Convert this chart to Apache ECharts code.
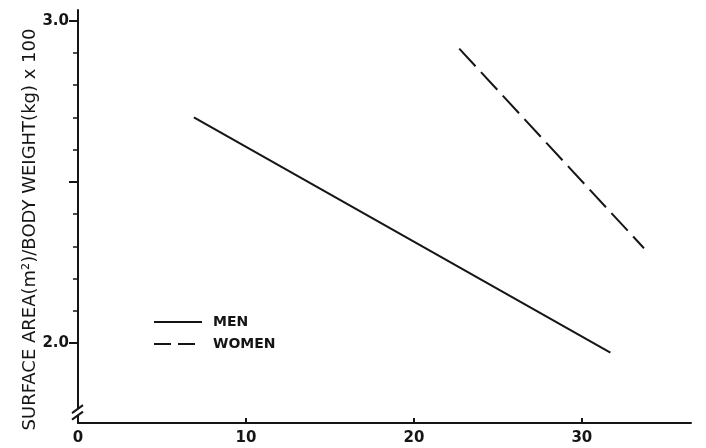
<!DOCTYPE html>
<html>
<head>
<meta charset="utf-8">
<script src="https://cdn.jsdelivr.net/npm/echarts@6/dist/echarts.min.js"></script>
<style>html,body{margin:0;padding:0;background:#fff;}#c{width:706px;height:448px;}</style>
</head>
<body>
<div id="c"></div>
<script>
const seriesNames = ['MEN', 'WOMEN'];
const menAge = [6.9, 31.7];
const menRatio = [2.70, 1.97];
const womenAge = [22.7, 33.7];
const womenRatio = [2.913, 2.294];
const xTickLabels = [0, 10, 20, 30];
const yTickLabels = [2.0, 3.0];
const yMajorTicks = [2.0, 2.5, 3.0];
const yMinorTicks = [2.1, 2.2, 2.3, 2.4, 2.6, 2.7, 2.8, 2.9];
const yTitle = 'SURFACE AREA(m\u00B2)/BODY WEIGHT(kg) x 100';

const ink = '#151515';
const font = 'DejaVu Sans';
const chart = echarts.init(document.getElementById('c'));
const pairs = (xs, ys) => xs.map((x, i) => [x, ys[i]]);
const womenDash = [24, 8];

chart.setOption({
  backgroundColor: '#ffffff',
  animation: false,
  grid: { left: 78, right: 15, top: 10, bottom: 25 },
  legend: {
    orient: 'vertical', left: 148, top: 310, itemWidth: 48, itemHeight: 14, itemGap: 8,
    align: 'left',
    itemStyle: { opacity: 0 },
    textStyle: { color: ink, fontFamily: font, fontWeight: 'bold', fontSize: 14, padding: [0, 0, 0, 6] },
    data: [
      { name: seriesNames[0], lineStyle: { color: ink, width: 2, type: 'solid' } },
      { name: seriesNames[1], lineStyle: { color: ink, width: 2, type: [17, 7] } }
    ]
  },
  xAxis: {
    type: 'value', min: 0, max: 36.5,
    axisLine: { show: true, lineStyle: { color: ink, width: 2 } },
    axisTick: { show: true, inside: true, length: 5, lineStyle: { color: ink, width: 2 }, customValues: xTickLabels.slice(1) },
    axisLabel: { color: ink, fontFamily: font, fontWeight: 'bold', fontSize: 15, margin: 8, customValues: xTickLabels },
    splitLine: { show: false }
  },
  yAxis: [{
    type: 'value', min: 1.752, max: 3.033, position: 'left',
    axisLine: { show: true, lineStyle: { color: ink, width: 2 } },
    axisTick: { show: true, inside: false, length: 9, lineStyle: { color: ink, width: 2 }, customValues: yMajorTicks },
    axisLabel: { color: ink, fontFamily: font, fontWeight: 'bold', fontSize: 15, margin: 9,
      customValues: yTickLabels, formatter: v => Number(v).toFixed(1) },
    splitLine: { show: false }
  }, {
    type: 'value', min: 1.752, max: 3.033, position: 'left',
    axisLine: { show: false },
    axisTick: { show: true, inside: false, length: 5, lineStyle: { color: ink, width: 1.5 }, customValues: yMinorTicks },
    axisLabel: { show: false },
    splitLine: { show: false }
  }],
  series: [{
    name: seriesNames[0], type: 'line', symbol: 'none', silent: true,
    data: pairs(menAge, menRatio),
    lineStyle: { color: ink, width: 2 }, itemStyle: { color: ink }
  }, {
    name: seriesNames[1], type: 'line', symbol: 'none', silent: true,
    data: pairs(womenAge, womenRatio),
    lineStyle: { color: ink, width: 2, type: womenDash }, itemStyle: { color: ink }
  }]
});

function decorate() {
  const p = (x, y) => chart.convertToPixel({ gridIndex: 0 }, [x, y]);
  const a = p(0, 1.775), b = p(0, 1.795), top = p(0, 3.033), bot = p(0, 1.752);
  const ax = a[0];
  chart.setOption({
    graphic: [
      { type: 'rect', shape: { x: ax - 3, y: b[1], width: 6, height: a[1] - b[1] }, style: { fill: '#fff' }, z: 10 },
      { type: 'line', shape: { x1: ax - 6, y1: a[1] + 4, x2: ax + 5, y2: a[1] - 4 }, style: { stroke: ink, lineWidth: 2 }, z: 11 },
      { type: 'line', shape: { x1: ax - 6, y1: b[1] + 4, x2: ax + 5, y2: b[1] - 4 }, style: { stroke: ink, lineWidth: 2 }, z: 11 },
      { type: 'text', x: 30, y: (top[1] + bot[1]) / 2 + 13, rotation: Math.PI / 2,
        style: { text: yTitle, fill: ink, font: '18px "' + font + '"', align: 'center', verticalAlign: 'middle' } }
    ]
  });
}
decorate();
</script>
</body>
</html>
